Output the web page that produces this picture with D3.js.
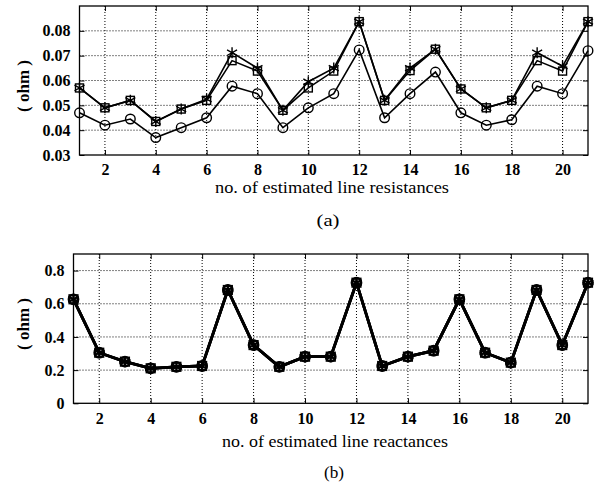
<!DOCTYPE html>
<html>
<head>
<meta charset="utf-8">
<script src="https://cdn.jsdelivr.net/npm/d3@7"></script>
<style>
  body { margin: 0; background: #fff; }
  svg { display: block; }
  text { font-family: "Times New Roman", "Liberation Serif", "DejaVu Serif", Times, serif; fill: #000; }
</style>
</head>
<body>
<script>
// line number on x axis
var lineNo = [1,2,3,4,5,6,7,8,9,10,11,12,13,14,15,16,17,18,19,20,21];
var xTicks = [2,4,6,8,10,12,14,16,18,20];

// (a) estimated line resistances, ohm
var resCircle = [0.047,0.042,0.0445,0.037,0.041,0.045,0.0577,0.0547,0.041,0.049,0.0547,0.0723,0.045,0.0547,0.0634,0.047,0.042,0.0442,0.0577,0.0547,0.072];
var resSquare = [0.057,0.049,0.052,0.0435,0.0485,0.052,0.068,0.0638,0.048,0.057,0.0638,0.0837,0.052,0.064,0.0726,0.0566,0.049,0.052,0.068,0.0638,0.0837];
var resStar   = [0.057,0.049,0.052,0.0435,0.0485,0.0525,0.0712,0.065,0.048,0.0595,0.065,0.0837,0.052,0.065,0.0726,0.0566,0.049,0.052,0.0712,0.0658,0.0837];
var resTicks  = [0.03,0.04,0.05,0.06,0.07,0.08];

// (b) estimated line reactances, ohm
var reactCircle = [0.627,0.305,0.251,0.211,0.22,0.225,0.683,0.351,0.22,0.281,0.281,0.727,0.225,0.281,0.317,0.627,0.305,0.245,0.683,0.351,0.727];
var reactSquare = [0.627,0.305,0.251,0.211,0.22,0.225,0.683,0.351,0.22,0.281,0.281,0.727,0.225,0.281,0.317,0.627,0.305,0.245,0.683,0.351,0.727];
var reactStar   = [0.627,0.305,0.251,0.211,0.22,0.225,0.683,0.351,0.22,0.281,0.281,0.727,0.225,0.281,0.317,0.627,0.305,0.245,0.683,0.351,0.727];
var reactTicks  = [0,0.2,0.4,0.6,0.8];

var serif = '"Times New Roman", "Liberation Serif", "DejaVu Serif", Times, serif';

var svg = d3.select("body").append("svg")
  .attr("width", 595)
  .attr("height", 493);

function drawPanel(cfg) {
  var x = d3.scaleLinear().domain([1, 21]).range([cfg.left, cfg.right]);
  var y = d3.scaleLinear().domain(cfg.yDomain).range([cfg.bottom, cfg.top]);
  var g = svg.append("g");

  // 网格线 dotted grid
  g.append("g").selectAll("line.vg")
    .data(xTicks).enter().append("line")
    .attr("x1", function (d) { return x(d); })
    .attr("x2", function (d) { return x(d); })
    .attr("y1", cfg.top).attr("y2", cfg.bottom)
    .style("stroke", "#000").style("stroke-width", 1)
    .style("stroke-dasharray", "1,2");
  g.append("g").selectAll("line.hg")
    .data(cfg.yTicks.filter(function (d) { return d !== cfg.yDomain[0]; }))
    .enter().append("line")
    .attr("x1", cfg.left).attr("x2", cfg.right)
    .attr("y1", function (d) { return y(d); })
    .attr("y2", function (d) { return y(d); })
    .style("stroke", "#000").style("stroke-width", 1)
    .style("stroke-dasharray", "1,2");

  // axes with inner ticks
  var xb = d3.axisBottom(x).tickValues(xTicks).tickSize(-5).tickPadding(9).tickFormat(d3.format("d"));
  var xt = d3.axisTop(x).tickValues(xTicks).tickSize(-5).tickFormat("");
  var yl = d3.axisLeft(y).tickValues(cfg.yTicks).tickSize(-5).tickPadding(9).tickFormat(cfg.fmt);
  var yr = d3.axisRight(y).tickValues(cfg.yTicks).tickSize(-5).tickFormat("");

  [
    g.append("g").attr("transform", "translate(0," + cfg.bottom + ")").call(xb),
    g.append("g").attr("transform", "translate(0," + cfg.top + ")").call(xt),
    g.append("g").attr("transform", "translate(" + cfg.left + ",0)").call(yl),
    g.append("g").attr("transform", "translate(" + cfg.right + ",0)").call(yr)
  ].forEach(function (a) {
    a.attr("font-family", null).attr("font-size", null);
    a.select(".domain").remove();
    a.selectAll("line").style("stroke", "#000");
    a.selectAll("text")
      .style("font-family", serif)
      .style("font-weight", "bold")
      .style("font-size", "16px")
      .style("fill", "#000");
  });

  // frame
  g.append("rect")
    .attr("x", cfg.left).attr("y", cfg.top)
    .attr("width", cfg.right - cfg.left)
    .attr("height", cfg.bottom - cfg.top)
    .style("fill", "none").style("stroke", "#000").style("stroke-width", 1.3);

  var line = d3.line()
    .x(function (d, i) { return x(lineNo[i]); })
    .y(function (d) { return y(d); });

  cfg.series.forEach(function (s) {
    g.append("path")
      .datum(s.values)
      .attr("d", line)
      .style("fill", "none")
      .style("stroke", "#000")
      .style("stroke-width", cfg.lw);

    var m = g.append("g").selectAll("g")
      .data(s.values).enter().append("g")
      .attr("transform", function (d, i) {
        return "translate(" + x(lineNo[i]) + "," + y(d) + ")";
      })
      .style("stroke", "#000")
      .style("stroke-width", cfg.mw)
      .style("fill", "none");

    if (s.mark === "circle") {
      m.append("circle").attr("r", 4.8);
    } else if (s.mark === "square") {
      m.append("rect").attr("x", -4).attr("y", -4).attr("width", 8).attr("height", 8);
    } else {
      // 星号 asterisk
      m.append("path").attr("d", "M0,-5.5V5.5M-5,-2.8L5,2.8M-5,2.8L5,-2.8");
    }
  });

  // y label
  svg.append("text")
    .attr("transform", "translate(" + cfg.ylabX + "," + cfg.ylabY + ") rotate(-90)")
    .attr("text-anchor", "middle")
    .style("font-family", serif)
    .style("font-size", "17px")
    .style("font-weight", "bold")
    .text("( ohm )");

  // x label, stretched a bit like the scan
  svg.append("text")
    .attr("x", cfg.xlabX).attr("y", cfg.xlabY)
    .attr("text-anchor", "middle")
    .attr("textLength", cfg.xlabW)
    .attr("lengthAdjust", "spacingAndGlyphs")
    .style("font-family", serif)
    .style("font-size", "16px")
    .text(cfg.xlab);

  svg.append("text")
    .attr("x", cfg.capX).attr("y", cfg.capY)
    .attr("text-anchor", "middle")
    .attr("textLength", cfg.capW)
    .attr("lengthAdjust", "spacingAndGlyphs")
    .style("font-family", serif)
    .style("font-size", "17px")
    .text(cfg.cap);
}

drawPanel({
  left: 79.5, right: 588, top: 6, bottom: 155,
  yDomain: [0.03, 0.09], yTicks: resTicks, fmt: d3.format(".2f"),
  lw: 1.6, mw: 1.4,
  series: [
    { values: resCircle, mark: "circle" },
    { values: resSquare, mark: "square" },
    { values: resStar, mark: "star" }
  ],
  ylabX: 29, ylabY: 86,
  xlab: "no. of  estimated line resistances", xlabX: 332, xlabY: 193, xlabW: 234,
  cap: "(a)", capX: 328, capY: 226, capW: 23
});

drawPanel({
  left: 73.5, right: 588, top: 254, bottom: 403.3,
  yDomain: [0, 0.9], yTicks: reactTicks,
  fmt: function (d) { return d === 0 ? "0" : d3.format(".1f")(d); },
  lw: 2.8, mw: 2.2,
  series: [
    { values: reactCircle, mark: "circle" },
    { values: reactSquare, mark: "square" },
    { values: reactStar, mark: "star" }
  ],
  ylabX: 29, ylabY: 324,
  xlab: "no. of estimated line reactances", xlabX: 335, xlabY: 447, xlabW: 226,
  cap: "(b)", capX: 334, capY: 478, capW: 20
});
</script>
</body>
</html>
